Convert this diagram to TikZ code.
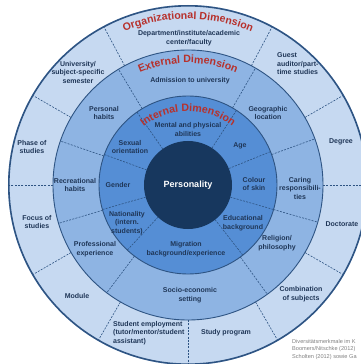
\documentclass[tikz,border=0pt]{standalone}
\usepackage{fontspec}
\setmainfont{Liberation Sans}
\usetikzlibrary{decorations.text}
\definecolor{orgblue}{HTML}{C6D9F1}
\definecolor{extblue}{HTML}{8EB4E3}
\definecolor{intblue}{HTML}{558ED5}
\definecolor{persblue}{HTML}{17375E}
\definecolor{rimblue}{HTML}{2E5483}
\definecolor{lblblue}{HTML}{1F3657}
\definecolor{dimred}{HTML}{B7312C}
\tikzset{
  lbl/.style={font=\fontsize{7}{8.5}\selectfont\bfseries,text=lblblue,align=center,inner sep=0pt},
  sep/.style={rimblue,line width=0.6pt,dash pattern=on 2pt off 1.3pt},
  rim/.style={draw=rimblue,line width=0.9pt},
  dimtitle/.style={decorate,decoration={text along path,text align=center,text color=dimred,
      text={|\fontsize{10.6}{12}\selectfont\bfseries|#1}}}
}
\begin{document}
\begin{tikzpicture}[x=1pt,y=1pt]
  \useasboundingbox (-188,-179) rectangle (173,185);
  \fill[orgblue] (0,0) circle[radius=180];
  \fill[extblue] (0,0) circle[radius=135];
  \fill[intblue] (0,0) circle[radius=89];
  \fill[persblue] (0,0) circle[radius=44];
  \foreach \a in {57,125,160,196,227,308,22,-16}
    \draw[sep] (\a:44) -- (\a:89);
  \foreach \a in {121,60,20,-16,-54,233,196.5,161}
    \draw[sep] (\a:89) -- (\a:135);
  \foreach \a in {150,118,62,30,0,-30,-60,-90,-120,-150,180}
    \draw[sep] (\a:135) -- (\a:180);
  \draw[rim] (0,0) circle[radius=89] (0,0) circle[radius=135];
  \draw[draw=rimblue,line width=1.6pt] (0,0) circle[radius=179.2];
  \path[dimtitle={Organizational Dimension}] (160:166) arc[start angle=160,end angle=20,radius=166];
  \path[dimtitle={External Dimension}] (160:122) arc[start angle=160,end angle=20,radius=122];
  \path[dimtitle={Internal Dimension}] (170:73.5) arc[start angle=170,end angle=10,radius=73.5];
  \node[font=\fontsize{9}{11}\selectfont\bfseries,text=white] (pers) at (0,0) {Personality};
  % internal dimension
  \node[lbl] (mental) at (0,55.5) {Mental and physical\\abilities};
  \node[lbl] (age) at (52,39) {Age};
  \node[lbl] (colour) at (66,1) {Colour\\of skin};
  \node[lbl] (educ) at (55,-38) {Educational\\background};
  \node[lbl] (migr) at (-2,-64) {Migration\\background/experience};
  \node[lbl] (nation) at (-61,-38) {Nationality\\(intern.\\students)};
  \node[lbl] (gender) at (-70,0) {Gender};
  \node[lbl] (sexual) at (-58,38) {Sexual\\orientation};
  % external dimension
  \node[lbl] (admission) at (2,104) {Admission to university};
  \node[lbl] (geo) at (80,72) {Geographic\\location};
  \node[lbl] (caring) at (112,-3) {Caring\\responsibili-\\ties};
  \node[lbl] (religion) at (89,-58) {Religion/\\philosophy};
  \node[lbl] (socio) at (2,-110) {Socio-economic\\setting};
  \node[lbl] (profexp) at (-93,-64) {Professional\\experience};
  \node[lbl] (recreation) at (-113,0) {Recreational\\habits};
  \node[lbl] (personal) at (-84,72) {Personal\\habits};
  % organizational dimension
  \node[lbl] (dept) at (1,147) {Department/institute/academic\\center/faculty};
  \node[lbl,align=left,anchor=west] (guest) at (89,121) {Guest\\auditor/part-\\time studies};
  \node[lbl] (degree) at (153,43) {Degree};
  \node[lbl] (doctorate) at (154,-39) {Doctorate};
  \node[lbl] (combi) at (113,-109) {Combination\\of subjects};
  \node[lbl] (studyprog) at (38,-148) {Study program};
  \node[lbl,align=left,anchor=west] (employ) at (-75,-148) {Student employment\\(tutor/mentor/student\\assistant)};
  \node[lbl] (module) at (-111,-111) {Module};
  \node[lbl] (focus) at (-151,-37) {Focus of\\studies};
  \node[lbl] (phase) at (-156,38) {Phase of\\studies};
  \node[lbl] (semester) at (-110,113) {University/\\subject-specific\\semester};
  \node[font=\fontsize{5.6}{7.4}\selectfont,text=gray,align=left,anchor=north west,inner sep=0pt]
    (source) at (104,-154) {Diversitätsmerkmale im K\\Boomers/Nitschke (2012)\\Scholten (2012) sowie Ga};
\end{tikzpicture}
\end{document}
